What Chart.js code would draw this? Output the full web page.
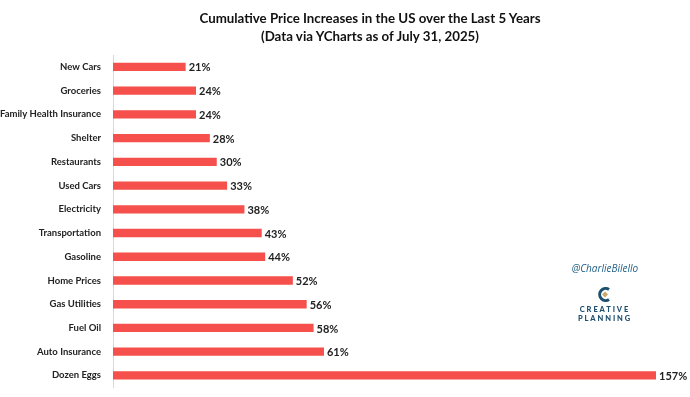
<!DOCTYPE html>
<html>
<head>
<meta charset="utf-8">
<script src="https://cdn.jsdelivr.net/npm/chart.js@4.4.0/dist/chart.umd.min.js"></script>
<style>
  html, body { margin: 0; padding: 0; background: #fff; }
  #wrap { position: relative; width: 690px; height: 397px; }
  #title {
    position: absolute; left: 170px; width: 400px; top: 9px;
    text-align: center; font: bold 13.3px Lato, "Open Sans", sans-serif;
    line-height: 18px; color: #111;
  }
  #handle {
    position: absolute; left: 555px; width: 100px; top: 261px; text-align: center;
    font: italic 10px "Open Sans", sans-serif; color: #1f5f86;
  }
  #logo {
    position: absolute; left: 555px; width: 100px; top: 287px; text-align: center;
    font: 900 7.5px Lato, "Open Sans", sans-serif; letter-spacing: 1.9px; color: #1d4f6e; line-height: 9px;
  }
  #logo svg { display: block; margin: 0 auto 3px auto; }
</style>
</head>
<body>
<div id="wrap">
  <canvas id="chart" width="690" height="397"></canvas>
  <div id="title">Cumulative Price Increases in the US over the Last 5 Years<br>(Data via YCharts as of July 31, 2025)</div>
  <div id="handle">@CharlieBilello</div>
  <div id="logo">
    <svg width="16" height="15" viewBox="0 0 16 15">
      <path d="M12 2.5 A6 6 0 1 0 12 12.5" fill="none" stroke="#1d4f6e" stroke-width="3"/>
      <path d="M8 4.5 L11 7.5 L8 10.5 L5 7.5 Z" fill="#c9a86a"/>
    </svg>
    CREATIVE<br>PLANNING
  </div>
</div>
<script>
// Data
const categories = ['New Cars', 'Groceries', 'Family Health Insurance', 'Shelter', 'Restaurants',
  'Used Cars', 'Electricity', 'Transportation', 'Gasoline', 'Home Prices', 'Gas Utilities',
  'Fuel Oil', 'Auto Insurance', 'Dozen Eggs'];
const increases = [21, 24, 24, 28, 30, 33, 38, 43, 44, 52, 56, 58, 61, 157];

// Draw the "xx%" label just after each bar
const valueLabels = {
  id: 'valueLabels',
  afterDatasetsDraw(chart) {
    const ctx = chart.ctx;
    const meta = chart.getDatasetMeta(0);
    ctx.save();
    ctx.font = 'bold 11px Lato, "Open Sans", sans-serif';
    ctx.fillStyle = '#222';
    ctx.textBaseline = 'middle';
    meta.data.forEach((bar, i) => {
      ctx.fillText(increases[i] + '%', bar.x + 3, bar.y + 1);
    });
    ctx.restore();
  }
};

new Chart(document.getElementById('chart'), {
  type: 'bar',
  data: {
    labels: categories,
    datasets: [{
      data: increases,
      backgroundColor: '#f5504b',
      borderWidth: 0,
      categoryPercentage: 1,
      barPercentage: 0.35
    }]
  },
  options: {
    indexAxis: 'y',
    responsive: false,
    animation: false,
    layout: { padding: { top: 55, right: 34, bottom: 8, left: 0 } },
    plugins: {
      legend: { display: false },
      tooltip: { enabled: false }
    },
    scales: {
      x: {
        display: false,
        min: 0,
        max: 157
      },
      y: {
        afterFit(scale) { scale.width = 113; },
        grid: { display: false },
        border: { display: true, color: '#d9d9d9', width: 1 },
        ticks: {
          color: '#222',
          padding: 4,
          font: { family: 'Lato, "Open Sans", sans-serif', size: 9.5, weight: 'bold' }
        }
      }
    }
  },
  plugins: [valueLabels]
});
</script>
</body>
</html>
